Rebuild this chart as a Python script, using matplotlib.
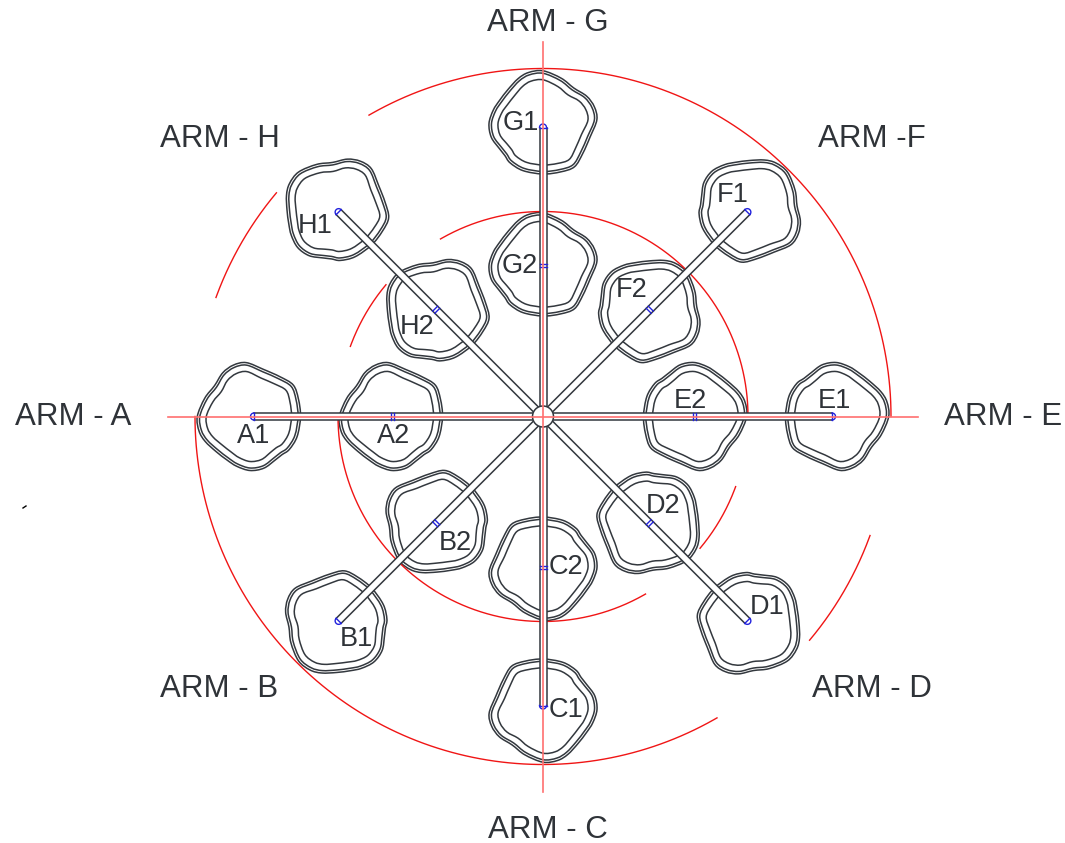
# Rotary arm layout - blob pads on eight arms, with red construction arcs

import numpy as np
import matplotlib
matplotlib.use("Agg")
import matplotlib.pyplot as plt
from matplotlib.path import Path
from matplotlib.patches import PathPatch, Circle

# =============================================================================
# Data
# =============================================================================

# hub position and sizes, in picture pixels
hub_x, hub_y = 543, 416.5
hub_r = 10.5
tube_half = 3.5
outer_station = 293
inner_station = 151

arm_letters = ["A", "H", "G", "F", "E", "D", "C", "B"]
arm_angles = [180, 135, 90, 45, 0, -45, -90, -135]

# outer outline of the arm A pad: angle and radius
pad_angles = [0, 20, 36, 53, 74, 94, 108, 122, 139, 158, 180, 196,
              209, 226, 242, 255, 270, 285, 300, 310, 320, 337]
pad_radii = [50.5, 51.5, 53.5, 49.8, 49.0, 54.0, 54.0, 51.5, 47.0, 48.8, 52.7, 53.0,
             51.3, 48.8, 49.2, 51.5, 54.0, 53.5, 50.3, 49.8, 51.3, 51.2]
pad_offsets = [0, -2.5, -9]

# red arcs: radius, start and end angle in degrees
arc_radii = [348, 348, 348, 205, 205, 205, 348, 205]
arc_starts = [180, 0, 140, 180, 0, 140, -40, -40]
arc_ends = [300, 120, 160, 300, 120, 160, -20, -20]

arm_titles = ["ARM - G", "ARM - C", "ARM - A", "ARM - E",
              "ARM - H", "ARM -F", "ARM - B", "ARM - D"]
arm_title_x = [548, 548, 73, 1003, 220, 872, 219, 872]
arm_title_y = [23, 830, 417, 417, 139, 139, 689, 689]

pad_labels = ["A1", "A2", "E1", "E2", "G1", "G2", "C1", "C2",
              "H1", "H2", "F1", "F2", "B1", "B2", "D1", "D2"]
pad_label_x = [254, 394, 834, 690, 521, 520, 566, 566,
               315, 417, 733, 632, 356, 455, 767, 663]
pad_label_y = [436, 436, 401, 401, 123, 266, 710, 567,
               226, 327, 195, 290, 639, 543, 607, 506]

dark = "#33383e"
text_col = "#2f3338"
blue = "#2222dd"
red = "#f01515"
cross_red = "#ff7070"


# =============================================================================
# Helpers
# =============================================================================

def pad_path(cx, cy, rot_deg, offset):
    # closed bezier through the radii (catmull-rom), rotated clockwise on screen
    base = np.deg2rad(np.array(pad_angles) - rot_deg)
    r = np.array(pad_radii) + offset
    pts = np.column_stack([cx + r * np.cos(base), cy - r * np.sin(base)])
    prev_p = np.roll(pts, 1, axis=0)
    next_p = np.roll(pts, -1, axis=0)
    next2_p = np.roll(pts, -2, axis=0)
    verts = [pts[0]]
    codes = [Path.MOVETO]
    for i in range(len(pts)):
        verts.append(pts[i] + (next_p[i] - prev_p[i]) / 6)
        verts.append(next_p[i] - (next2_p[i] - pts[i]) / 6)
        verts.append(next_p[i])
        codes += [Path.CURVE4] * 3
    return Path(verts, codes)


def polar(radius, angle_deg):
    a = np.deg2rad(angle_deg)
    return hub_x + radius * np.cos(a), hub_y - radius * np.sin(a)


# =============================================================================
# Plot
# =============================================================================

plt.rcParams["font.family"] = ["Liberation Sans", "DejaVu Sans"]

fig = plt.figure(figsize=(10.65, 8.43), dpi=100)
ax = fig.add_axes([0, 0, 1, 1])
ax.set_xlim(0, 1065)
ax.set_ylim(843, 0)
ax.axis("off")

# pads
for k, angle in enumerate(arm_angles):
    for station in (outer_station, inner_station):
        cx, cy = polar(station, angle)
        for off in pad_offsets:
            ax.add_patch(PathPatch(pad_path(cx, cy, 45 * k, off), fill=False,
                                   ec=dark, lw=1.1, zorder=2))

# red arcs
for r, a0, a1 in zip(arc_radii, arc_starts, arc_ends):
    t = np.deg2rad(np.linspace(a0, a1, 200))
    ax.plot(hub_x + r * np.cos(t), hub_y - r * np.sin(t), color=red, lw=1.0, zorder=2)

# arm tubes
for angle in arm_angles:
    a = np.deg2rad(angle)
    nx, ny = np.sin(a), np.cos(a)
    x0, y0 = polar(hub_r - 1, angle)
    x1, y1 = polar(outer_station - 4, angle)
    ax.fill([x0 + nx * tube_half, x1 + nx * tube_half, x1 - nx * tube_half, x0 - nx * tube_half],
            [y0 + ny * tube_half, y1 + ny * tube_half, y1 - ny * tube_half, y0 - ny * tube_half],
            color="white", lw=0, zorder=3)
    for s in (1, -1):
        ax.plot([x0 + s * nx * tube_half, x1 + s * nx * tube_half],
                [y0 + s * ny * tube_half, y1 + s * ny * tube_half],
                color=dark, lw=1.1, zorder=4)

    # blue ticks at the inner station
    for d in (-1.5, 1.5):
        tx, ty = polar(inner_station + d, angle)
        ax.plot([tx - nx * tube_half, tx + nx * tube_half],
                [ty - ny * tube_half, ty + ny * tube_half], color=blue, lw=1.0, zorder=5)

    # blue rounded cap at the outer end
    ax.plot([x1 - nx * tube_half, x1 + nx * tube_half],
            [y1 - ny * tube_half, y1 + ny * tube_half], color=blue, lw=1.0, zorder=5)
    t = np.deg2rad(np.linspace(angle - 90, angle + 90, 30))
    ax.plot(x1 + tube_half * np.cos(t), y1 - tube_half * np.sin(t), color=blue, lw=1.0, zorder=5)

# red centre lines, pale like in the drawing
ax.plot([168, 918], [hub_y, hub_y], color=cross_red, lw=1.2, zorder=6)
ax.plot([hub_x, hub_x], [42, 792], color=cross_red, lw=1.2, zorder=6)

# hub
ax.add_patch(Circle((hub_x, hub_y), hub_r, fc="white", ec=dark, lw=1.1, zorder=5))

# stray speck at the left of the drawing
ax.plot([23, 26], [508, 506], color="black", lw=1.0)

for label, x, y in zip(arm_titles, arm_title_x, arm_title_y):
    ax.text(x, y, label, fontsize=22.5, color=text_col, ha="center", va="center", zorder=7)
for label, x, y in zip(pad_labels, pad_label_x, pad_label_y):
    ax.text(x, y, label, fontsize=19.5, color=text_col, ha="center", va="center", zorder=7)

fig.savefig("out.png", dpi=100)
